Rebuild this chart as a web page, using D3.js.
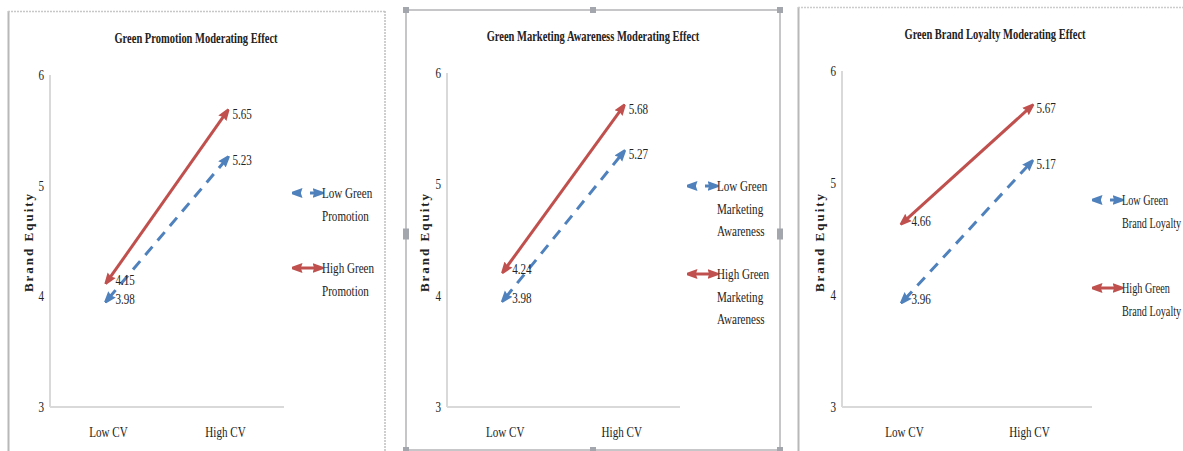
<!DOCTYPE html>
<html><head><meta charset="utf-8">
<script src="https://cdn.jsdelivr.net/npm/d3@7"></script>
<style>body{margin:0;background:#fff}svg{display:block}</style>
</head><body><svg id="c" width="1183" height="451"></svg>
<script>
// ---- data ----
const categories = ["Low CV", "High CV"];
const titles = ["Green Promotion Moderating Effect", "Green Marketing Awareness Moderating Effect", "Green Brand Loyalty Moderating Effect"];
const yTicks = [3, 4, 5, 6];
const yAxisTitle = "Brand  Equity";
const lowValues1 = [3.98, 5.23];
const highValues1 = [4.15, 5.65];
const lowValues2 = [3.98, 5.27];
const highValues2 = [4.24, 5.68];
const lowValues3 = [3.96, 5.17];
const highValues3 = [4.66, 5.67];
const lowLegend = [["Low Green", "Promotion"], ["Low Green", "Marketing", "Awareness"], ["Low Green", "Brand Loyalty"]];
const highLegend = [["High Green", "Promotion"], ["High Green", "Marketing", "Awareness"], ["High Green", "Brand Loyalty"]];

// ---- layout ----
const panels = [
  {title: titles[0], low: lowValues1, high: highValues1, lowLeg: lowLegend[0], highLeg: highLegend[0], legSx: 0.74,
   x0: 50, x1: 284, yTop: 75, yBot: 407, titleX: 196, titleY: 43, yTitleX: 29, legX: 293, legLowY: 193, legHighY: 268},
  {title: titles[1], low: lowValues2, high: highValues2, lowLeg: lowLegend[1], highLeg: highLegend[1], legSx: 0.74,
   x0: 447, x1: 680, yTop: 73, yBot: 407, titleX: 593, titleY: 41, yTitleX: 425, legX: 688, legLowY: 186, legHighY: 274},
  {title: titles[2], low: lowValues3, high: highValues3, lowLeg: lowLegend[2], highLeg: highLegend[2], legSx: 0.68,
   x0: 842, x1: 1092, yTop: 71, yBot: 407, titleX: 995, titleY: 39, yTitleX: 820, legX: 1093, legLowY: 200, legHighY: 288}
];
const BLUE = "#4F81BD", RED = "#C0504D", SX = 0.74;
const FONT = "'Liberation Serif', 'Times New Roman', 'DejaVu Serif', serif";

const svg = d3.select("#c");
const defs = svg.append("defs");
function arrow(id, color) {
  defs.append("marker").attr("id", id).attr("viewBox", "0 0 10 10").attr("refX", 5).attr("refY", 5)
    .attr("markerUnits", "userSpaceOnUse").attr("markerWidth", 11).attr("markerHeight", 11)
    .attr("orient", "auto-start-reverse")
    .append("path").attr("d", "M0,0.5 L10,4 L10,6 L0,9.5 L1.5,5 Z").attr("fill", color);
}
arrow("aB", BLUE); arrow("aR", RED);

function txt(g, x, y, s, o = {}) {
  return g.append("text").attr("transform", `translate(${x},${y}) scale(${o.sx ?? SX},1)`)
    .attr("font-family", FONT).attr("fill", "#222")
    .attr("text-anchor", o.anchor || "start").attr("font-size", o.size || 15)
    .attr("font-weight", o.weight || "normal").text(s);
}

// ---- frames ----
const fr = svg.append("g").attr("fill", "none");
fr.append("line").attr("x1", 8.5).attr("y1", 11).attr("x2", 8.5).attr("y2", 451).attr("stroke", "#b8b8b8").attr("stroke-width", 2);
fr.append("line").attr("x1", 8).attr("y1", 11.5).attr("x2", 385).attr("y2", 11.5).attr("stroke", "#c8c8c8").attr("stroke-width", 1.5).attr("stroke-dasharray", "2,1");
fr.append("line").attr("x1", 385).attr("y1", 11).attr("x2", 385).attr("y2", 451).attr("stroke", "#c0c0c0").attr("stroke-width", 1.5).attr("stroke-dasharray", "2,1");
fr.append("rect").attr("x", 406).attr("y", 10).attr("width", 374).attr("height", 440).attr("stroke", "#b4b4b8").attr("stroke-width", 1.5);
[[406,10],[593,10],[780,10],[406,234],[780,234],[406,450],[593,450],[780,450]].forEach(([hx,hy], i) => {
  const tall = (i === 3 || i === 4);
  fr.append("rect").attr("x", hx - 3).attr("y", hy - (tall ? 5.5 : 3)).attr("width", 6).attr("height", tall ? 11 : 6).attr("fill", "#a4a6ae");
});
fr.append("line").attr("x1", 798.5).attr("y1", 7).attr("x2", 798.5).attr("y2", 451).attr("stroke", "#b8b8b8").attr("stroke-width", 2);
fr.append("line").attr("x1", 798).attr("y1", 7.5).attr("x2", 1183).attr("y2", 7.5).attr("stroke", "#cccccc").attr("stroke-width", 1.5).attr("stroke-dasharray", "2,1");

// ---- panels ----
panels.forEach(p => {
  const g = svg.append("g");
  const x = d3.scaleBand().domain(categories).range([p.x0, p.x1]);
  const y = d3.scaleLinear().domain([3, 6]).range([p.yBot, p.yTop]);
  const cx = c => x(c) + x.bandwidth() / 2;

  g.append("line").attr("x1", p.x0).attr("x2", p.x0).attr("y1", y(6)).attr("y2", y(3)).attr("stroke", "#d9d9d9").attr("stroke-width", 2);
  g.append("line").attr("x1", p.x0).attr("x2", p.x1).attr("y1", y(3)).attr("y2", y(3)).attr("stroke", "#d9d9d9").attr("stroke-width", 2);

  yTicks.forEach(t => txt(g, p.x0 - 6, y(t) + 5, t, {anchor: "end"}));
  categories.forEach(c => txt(g, cx(c), 437, c, {anchor: "middle"}));

  txt(g, p.titleX, p.titleY, p.title, {anchor: "middle", weight: "bold", size: 15, sx: 0.7});
  g.append("text").attr("transform", `translate(${p.yTitleX + 4},242) rotate(-90)`).attr("text-anchor", "middle")
    .attr("font-family", FONT).attr("fill", "#222")
    .attr("font-size", 13).attr("font-weight", "bold").attr("letter-spacing", 2).text(yAxisTitle);

  const line = d3.line().x((d, i) => cx(categories[i])).y(d => y(d));
  g.append("path").datum(p.high).attr("d", line).attr("fill", "none").attr("stroke", RED).attr("stroke-width", 3)
    .attr("marker-start", "url(#aR)").attr("marker-end", "url(#aR)");
  g.append("path").datum(p.low).attr("d", line).attr("fill", "none").attr("stroke", BLUE).attr("stroke-width", 3)
    .attr("stroke-dasharray", "11,8").attr("marker-start", "url(#aB)").attr("marker-end", "url(#aB)");

  [p.high, p.low].forEach(vals => vals.forEach((v, i) => {
    txt(g, cx(categories[i]) + 7, y(v) + 5, v.toFixed(2));
  }));

  const lg = g.append("g");
  lg.append("line").attr("x1", p.legX + 4).attr("x2", p.legX + 25).attr("y1", p.legLowY).attr("y2", p.legLowY)
    .attr("stroke", BLUE).attr("stroke-width", 3).attr("stroke-dasharray", "4,9,10")
    .attr("marker-start", "url(#aB)").attr("marker-end", "url(#aB)");
  lg.append("line").attr("x1", p.legX + 4).attr("x2", p.legX + 25).attr("y1", p.legHighY).attr("y2", p.legHighY)
    .attr("stroke", RED).attr("stroke-width", 3).attr("marker-start", "url(#aR)").attr("marker-end", "url(#aR)");
  p.lowLeg.forEach((s, i) => txt(lg, p.legX + 29, p.legLowY + 5 + i * 22.5, s, {sx: p.legSx}));
  p.highLeg.forEach((s, i) => txt(lg, p.legX + 29, p.legHighY + 5 + i * 22.5, s, {sx: p.legSx}));
});
</script></body></html>
